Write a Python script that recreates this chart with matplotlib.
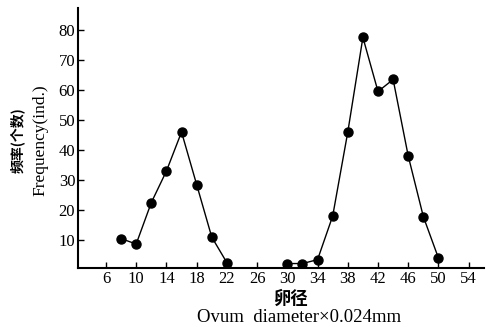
import matplotlib
matplotlib.use("Agg")
import matplotlib.pyplot as plt

# small eggs group
x1 = [8, 10, 12, 14, 16, 18, 20, 22]
y1 = [10.5, 8.7, 22.5, 33, 46, 28.5, 11, 2.5]
# large eggs group
x2 = [30, 32, 34, 36, 38, 40, 42, 44, 46, 48, 50]
y2 = [2.2, 2.2, 3.5, 18, 46, 77.5, 59.5, 63.5, 38, 17.8, 4]

xticks = [6, 10, 14, 18, 22, 26, 30, 34, 38, 42, 46, 50, 54]
yticks = [10, 20, 30, 40, 50, 60, 70, 80]

serif = ["Liberation Serif", "DejaVu Serif"]
cjk = ["Noto Sans CJK SC", "DejaVu Sans"]

fig = plt.figure(figsize=(4.86, 3.27), dpi=100)
ax = fig.add_axes([0.1605, 0.18, 0.835, 0.7955])

ax.plot(x1, y1, "-o", color="black", lw=1.0, ms=6.5)
ax.plot(x2, y2, "-o", color="black", lw=1.0, ms=6.5)

ax.set_xlim(2.3, 56)
ax.set_ylim(0.67, 87.3)
ax.set_xticks(xticks)
ax.set_yticks(yticks)
ax.set_xticklabels([str(t) for t in xticks], fontfamily=serif, fontsize=12)
ax.set_yticklabels([str(t) for t in yticks], fontfamily=serif, fontsize=12)
ax.tick_params(direction="in", length=4, width=1, pad=2)
ax.spines["top"].set_visible(False)
ax.spines["right"].set_visible(False)
ax.spines["left"].set_linewidth(1.5)
ax.spines["bottom"].set_linewidth(1.5)

fig.text(0.597, 0.085, "卵径", family=cjk, fontweight="bold", fontsize=12.5, ha="center", va="center")
fig.text(0.615, 0.03, "Ovum  diameter×0.024mm", family=serif, fontsize=13.5, ha="center", va="center")
fig.text(0.036, 0.57, "频率(个数)", family=cjk, fontweight="bold", fontsize=10, rotation=90, ha="center", va="center")
fig.text(0.083, 0.57, "Frequency(ind.)", family=serif, fontsize=12.5, rotation=90, ha="center", va="center")

fig.savefig("out.png", dpi=100)
